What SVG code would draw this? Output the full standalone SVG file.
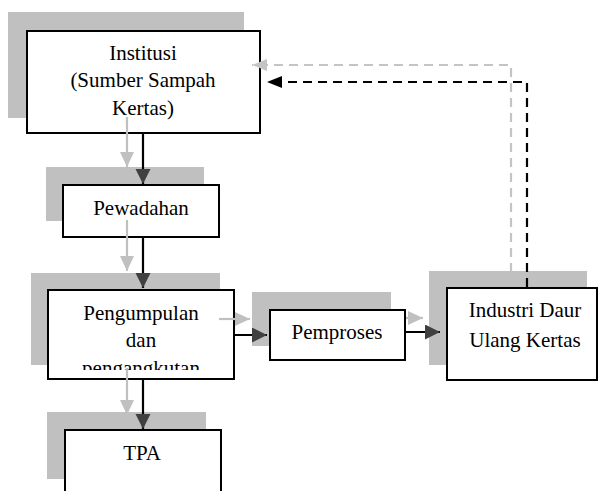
<svg xmlns="http://www.w3.org/2000/svg" width="599" height="491" viewBox="0 0 599 491">
<style>
.sh{fill:#c0c0c0}
.bx{fill:#fff;stroke:#000;stroke-width:2}
.t{font-family:"Liberation Serif","Times New Roman",serif;font-size:21px;fill:#000;text-anchor:middle}
.k{stroke:#000;stroke-width:2.2;fill:none}
.g{stroke:#c0c0c0;stroke-width:2.2;fill:none}
.kd{stroke:#000;stroke-width:2.2;fill:none;stroke-dasharray:9 6}
.gd{stroke:#c4c4c4;stroke-width:2.2;fill:none;stroke-dasharray:9 6}
</style>
<defs>
<marker id="ak" markerUnits="userSpaceOnUse" markerWidth="16" markerHeight="16" refX="15" refY="7.5" orient="auto"><path d="M0,0 L15,7.5 L0,15 z" fill="#404040"/></marker>
<marker id="ag" markerUnits="userSpaceOnUse" markerWidth="16" markerHeight="16" refX="15" refY="7" orient="auto"><path d="M0,0 L15,7 L0,14 z" fill="#c0c0c0"/></marker>
<marker id="ad" markerUnits="userSpaceOnUse" markerWidth="16" markerHeight="16" refX="15" refY="6" orient="auto"><path d="M0,0 L15,6 L0,12 z" fill="#000"/></marker>
<marker id="adg" markerUnits="userSpaceOnUse" markerWidth="16" markerHeight="16" refX="15" refY="6" orient="auto"><path d="M0,0 L15,6 L0,12 z" fill="#c4c4c4"/></marker>
<clipPath id="cp"><rect x="47" y="289" width="188" height="81"/></clipPath>
</defs>
<g id="shadows">
<rect class="sh" x="8" y="12" width="236" height="106"/>
<rect class="sh" x="46" y="167" width="158" height="54"/>
<rect class="sh" x="31" y="273" width="189" height="92"/>
<rect class="sh" x="252" y="292" width="139" height="54"/>
<rect class="sh" x="429" y="271" width="158" height="94"/>
<rect class="sh" x="47" y="412" width="159" height="67"/>
</g>
<g id="institusi">
<rect class="bx" x="27" y="31" width="233" height="102"/>
<text class="t" x="143" y="60">Institusi</text>
<text class="t" x="143" y="87">(Sumber Sampah</text>
<text class="t" x="143" y="115">Kertas)</text>
</g>
<g id="pewadahan">
<rect class="bx" x="63" y="185" width="156" height="52"/>
<text class="t" x="141" y="215">Pewadahan</text>
</g>
<g id="pengumpulan">
<rect class="bx" x="48" y="290" width="186" height="89"/>
<g clip-path="url(#cp)">
<text class="t" x="141" y="320">Pengumpulan</text>
<text class="t" x="141" y="347">dan</text>
<text class="t" x="141" y="375">pengangkutan</text>
</g>
</g>
<g id="pemproses">
<rect class="bx" x="270" y="310" width="135" height="50"/>
<text class="t" x="337" y="339">Pemproses</text>
</g>
<g id="industri">
<rect class="bx" x="447" y="288" width="150" height="92"/>
<text class="t" x="525" y="317">Industri Daur</text>
<text class="t" x="525" y="347">Ulang Kertas</text>
</g>
<g id="tpa">
<rect class="bx" x="65" y="430" width="156" height="80"/>
<text class="t" x="142" y="460">TPA</text>
</g>
<g id="connectors">
<line class="g" x1="127" y1="117" x2="127" y2="167" marker-end="url(#ag)"/>
<line class="k" x1="143" y1="133" x2="143" y2="184" marker-end="url(#ak)"/>
<line class="g" x1="127" y1="220" x2="127" y2="271" marker-end="url(#ag)"/>
<line class="k" x1="143" y1="237" x2="143" y2="288" marker-end="url(#ak)"/>
<line class="g" x1="219" y1="319" x2="250" y2="319" marker-end="url(#ag)"/>
<line class="k" x1="234" y1="335" x2="267" y2="335" marker-end="url(#ak)"/>
<line class="g" x1="406" y1="318" x2="423" y2="318" marker-end="url(#ag)"/>
<line class="k" x1="405" y1="332" x2="440" y2="332" marker-end="url(#ak)"/>
<line class="g" x1="127" y1="368" x2="127" y2="415" marker-end="url(#ag)"/>
<line class="k" x1="143" y1="379" x2="143" y2="429" marker-end="url(#ak)"/>
<path class="gd" d="M511,272 L511,65 L252,65" marker-end="url(#adg)"/>
<path class="kd" d="M527,287 L527,82 L267,82" marker-end="url(#ad)"/>
</g>
</svg>
